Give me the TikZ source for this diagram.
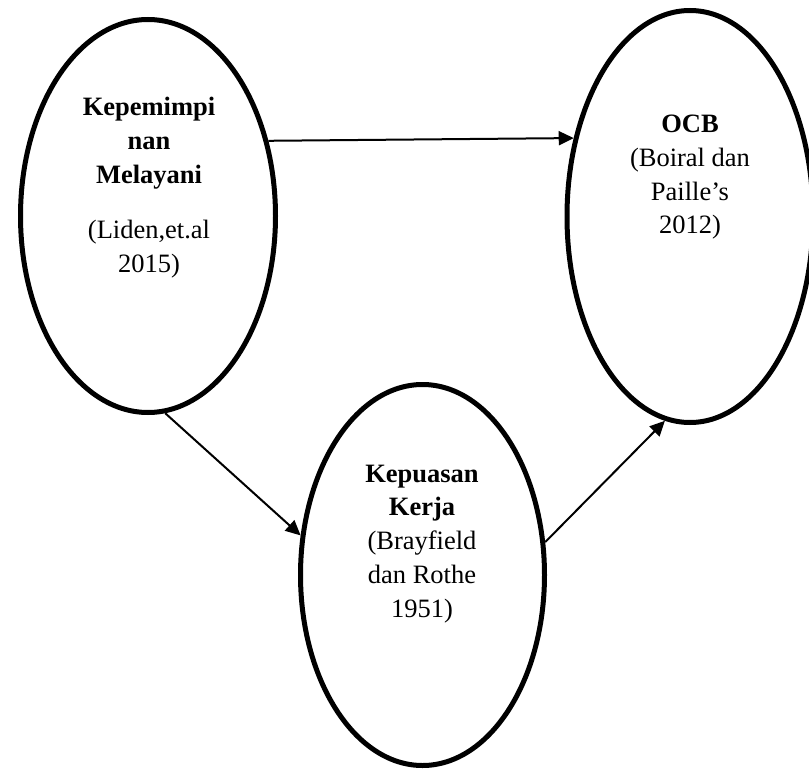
\documentclass[tikz,border=0pt]{standalone}
\usepackage{fontspec}
\setmainfont{Liberation Serif}
\usetikzlibrary{shapes.geometric,arrows.meta}
\tikzset{
  oval/.style={ellipse, draw=black, line width=5pt, inner sep=0pt, fill=none},
  txt/.style={anchor=base, inner sep=0pt, font=\fontsize{26.5}{32}\selectfont},
  btxt/.style={txt, font=\fontsize{26.5}{32}\selectfont\bfseries},
  conn/.style={line width=2pt, -{Triangle[length=15pt,width=14pt]}}
}
\begin{document}
\begin{tikzpicture}[x=1pt,y=-1pt]
\useasboundingbox (0,0) rectangle (809,771);
\fill[white] (0,0) rectangle (809,771);
% ellipses
\node[oval, minimum width=255pt, minimum height=393pt] (L) at (148,216) {};
\node[oval, minimum width=246pt, minimum height=412pt] (R) at (690,216.5) {};
\node[oval, minimum width=244pt, minimum height=381pt] (B) at (422.5,575) {};
% left texts
\node[btxt] (l1) at (149,115) {Kepemimpi};
\node[btxt] (l2) at (149,149) {nan};
\node[btxt] (l3) at (149,183) {Melayani};
\node[txt] (l4) at (149,238) {(Liden,et.al};
\node[txt] (l5) at (149,272) {2015)};
% right texts
\node[btxt] (r1) at (690,132) {OCB};
\node[txt] (r2) at (690,166) {(Boiral dan};
\node[txt] (r3) at (690,200) {Paille’s};
\node[txt] (r4) at (690,233) {2012)};
% bottom texts
\node[btxt] (b1) at (422,482) {Kepuasan};
\node[btxt] (b2) at (422,515.5) {Kerja};
\node[txt] (b3) at (422,549.5) {(Brayfield};
\node[txt] (b4) at (422,583) {dan Rothe};
\node[txt] (b5) at (422,617) {1951)};
% connectors
\draw[conn] (L.32.3) -- (R.146.7);
\draw[conn] (L.-85.7) -- (B.162);
\draw[conn] (B.15.9) -- (R.263.6);
\end{tikzpicture}
\end{document}
